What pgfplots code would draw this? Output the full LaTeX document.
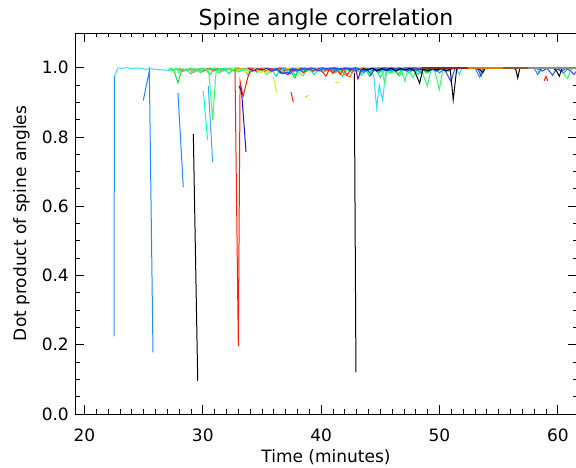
\documentclass[border=0pt]{standalone}
\usepackage{pgfplots}
\pgfplotsset{compat=1.18}
\usepackage{fontspec}
\setmainfont{DejaVu Sans}
\definecolor{cDodger}{HTML}{1E8CFF}
\definecolor{cCyan}{HTML}{33DDFF}
\definecolor{cAqua}{HTML}{00FFD0}
\definecolor{cTeal}{HTML}{00F090}
\definecolor{cLBlue}{HTML}{30B0FF}
\definecolor{cSpring}{HTML}{33FF66}
\definecolor{cGreen}{HTML}{10E040}
\definecolor{cOrange}{HTML}{FF7010}
\definecolor{cRed}{HTML}{FF2000}
\definecolor{cDBlue}{HTML}{1010E0}
\definecolor{cBlue}{HTML}{2050FF}
\definecolor{cPurple}{HTML}{7A00C8}
\definecolor{cYellow}{HTML}{E8E800}
\definecolor{cYGreen}{HTML}{B0FF20}
\definecolor{cGold}{HTML}{FFC000}
\definecolor{cBandO}{HTML}{D98200}
\definecolor{cBandB}{HTML}{8B5A30}
\definecolor{cBandR}{HTML}{8B2A1A}
\definecolor{cBandG}{HTML}{8C8C8C}
\begin{document}
\begin{tikzpicture}[x=1pt,y=1pt]
\useasboundingbox (0,0) rectangle (576,468);
\clip (0,0) rectangle (576,468);
\begin{axis}[
  at={(75pt,54pt)}, anchor=south west,
  scale only axis, width=502pt, height=381pt,
  xmin=19.2, xmax=61.62, ymin=0, ymax=1.1,
  xtick={20,30,40,50,60}, minor x tick num=9,
  ytick={0,0.2,0.4,0.6,0.8,1.0}, minor y tick num=3,
  major tick length=9pt, minor tick length=4.5pt,
  tick style={black, line width=0.8pt},
  axis line style={black, line width=0.9pt},
  /pgf/number format/assume math mode=true,
  ticklabel style={font=\fontsize{17}{20}\selectfont},
  xticklabel style={anchor=base, yshift=-28pt},
  yticklabel style={anchor=east, inner sep=0pt, xshift=-6pt,
     /pgf/number format/.cd, fixed, fixed zerofill, precision=1},
  title={Spine angle correlation},
  title style={at={(axis description cs:0.5,1.0052)}, anchor=base, font=\fontsize{22}{26}\selectfont},
  xlabel={Time (minutes)},
  xlabel style={at={(axis description cs:0.5,-0.126)}, anchor=base, font=\fontsize{17}{20}\selectfont},
  ylabel={Dot product of spine angles},
  ylabel style={at={(axis description cs:-0.0976,0.5)}, anchor=base, rotate=0, font=\fontsize{17}{20}\selectfont},
  every axis plot/.append style={line width=1pt, no markers},
]
% cyan long series
\addplot[cCyan] coordinates {(22.53,0.975)(22.83,0.999)(23.2,0.998)(23.6,1.0)(24.0,0.997)(24.4,0.999)(24.8,0.998)(25.2,0.995)(25.6,0.997)(26.0,0.995)(26.4,0.994)(26.8,0.993)(27.2,0.992)(27.6,0.994)(28.0,0.996)(28.5,0.993)(29.0,0.997)(29.5,0.995)(30.0,0.998)(30.5,0.996)(31.0,0.999)(31.6,0.997)(32.2,0.998)(32.8,0.999)(33.5,0.997)(34.2,0.999)(35.0,0.998)(35.8,0.996)(36.5,0.999)(37.3,0.998)(38.0,0.999)(38.8,0.997)(39.5,0.999)(40.3,0.998)(41.0,1.0)(41.8,0.998)(42.6,0.999)(43.4,0.997)(44.2,0.995)(44.45,0.975)(44.69,0.883)(44.91,0.95)(45.20,0.905)(45.45,0.99)(45.8,0.998)(46.5,0.999)(47.3,0.997)(48.0,0.999)(48.8,0.996)(49.5,0.999)(50.3,0.998)(51.0,0.996)(51.4,0.999)(51.67,0.98)(51.9,0.998)(52.6,1.0)(53.5,0.999)(54.5,1.0)(55.5,0.999)(56.5,1.0)(57.5,0.999)(58.2,0.998)(58.43,0.984)(58.65,0.999)(59.3,0.998)(60.0,1.0)(60.8,0.999)(61.7,1.0)};
% dodger blue drops
\addplot[cDodger] coordinates {(22.50,0.224)(22.53,0.975)};
\addplot[cDodger] coordinates {(24.97,0.905)(25.48,0.991)(25.79,0.178)};
\addplot[cDodger] coordinates {(27.90,0.927)(28.35,0.655)};
% black drop
\addplot[black] coordinates {(29.20,0.808)(29.57,0.096)};
% aqua and light blue drops
\addplot[cAqua] coordinates {(30.04,0.933)(30.41,0.79)};
\addplot[cLBlue] coordinates {(30.46,0.947)(30.83,0.728)};
% teal-green noisy series
\addplot[cTeal] coordinates {(27.8,0.998)(28.2,0.988)(28.6,0.996)(29.0,0.982)(29.4,0.997)(29.8,0.985)(30.2,0.996)(30.6,0.98)(31.0,0.997)(31.4,0.985)(31.8,0.998)(32.2,0.982)(32.6,0.996)(33.0,0.987)(33.4,0.997)(33.8,0.98)(34.2,0.996)(34.6,0.986)(35.0,0.998)(35.4,0.981)(35.8,0.996)(36.2,0.975)(36.6,0.997)(37.0,0.986)(37.4,0.998)(37.8,0.978)(38.2,0.996)(38.6,0.985)(39.0,0.997)(39.4,0.98)(39.8,0.996)(40.2,0.986)(40.6,0.998)(41.0,0.982)(41.4,0.996)(41.8,0.975)(42.2,0.997)(42.6,0.985)(43.0,0.998)(43.4,0.978)(43.8,0.996)(44.2,0.985)(44.6,0.997)(45.0,0.972)(45.4,0.996)(45.8,0.984)(46.2,0.998)(46.6,0.976)(47.0,0.996)(47.4,0.985)(47.8,0.998)(48.2,0.98)(48.6,0.996)(49.0,0.985)(49.4,0.998)(49.8,0.99)(50.3,0.999)};
% green long series
\addplot[cGreen] coordinates {(27.2,0.999)(27.55,0.993)(27.9,0.956)(28.25,0.996)(28.6,0.992)(29.0,0.998)(29.4,0.99)(29.8,0.997)(30.2,0.993)(30.6,0.999)(31.0,0.99)(31.4,0.997)(31.8,0.992)(32.2,0.998)(32.6,0.99)(33.0,0.997)(33.4,0.992)(33.8,0.999)(34.2,0.99)(34.6,0.997)(35.0,0.992)(35.4,0.998)(35.8,0.99)(36.2,0.996)(36.6,0.984)(37.0,0.997)(37.4,0.99)(37.79,0.97)(38.1,0.996)(38.5,0.99)(38.9,0.998)(39.3,0.988)(39.7,0.997)(40.1,0.99)(40.5,0.998)(40.9,0.991)(41.3,0.997)(41.7,0.99)(42.1,0.999)(42.5,0.99)(42.9,0.997)(43.3,0.985)(43.7,0.996)(44.1,0.975)(44.5,0.997)(44.9,0.985)(45.3,0.998)(45.7,0.99)(46.1,0.997)(46.5,0.98)(46.9,0.996)(47.3,0.99)(47.7,0.998)(48.1,0.99)(48.5,0.996)(48.9,0.985)(49.3,0.998)(49.7,0.99)(50.1,0.999)(50.6,0.997)(51.2,1.0)};
% orange series
\addplot[cOrange] coordinates {(28.0,0.998)(28.4,0.99)(28.8,0.997)(29.2,0.985)(29.6,0.996)(30.0,0.988)(30.4,0.998)(30.8,0.992)(31.2,0.997)(31.6,0.99)(32.0,0.998)(32.4,0.994)(32.8,0.999)(33.4,0.996)(34.0,0.999)(34.6,0.995)(35.2,0.999)(36.0,0.997)(36.8,0.999)(37.6,0.996)(38.4,0.999)(39.2,0.997)(40.0,0.999)(40.4,0.99)(40.8,0.998)(41.2,0.985)(41.6,0.997)(42.0,0.98)(42.44,0.973)(42.8,0.997)(43.4,0.999)(44.2,0.998)(45.0,1.0)(46.0,0.999)(47.0,1.0)(48.0,0.999)(49.0,1.0)(50.0,0.999)(51.0,1.0)(52.0,0.999)(53.0,1.0)};
% spring green long series
\addplot[cSpring] coordinates {(27.06,0.997)(27.4,0.99)(27.7,0.998)(28.0,0.985)(28.3,0.997)(28.6,0.99)(28.9,0.999)(29.2,0.986)(29.5,0.996)(29.8,0.99)(30.1,0.998)(30.5,0.99)(30.83,0.849)(31.11,0.984)(31.4,0.997)(31.7,0.99)(32.0,0.999)(32.4,0.992)(32.8,0.998)(33.2,0.99)(33.6,0.997)(34.0,0.985)(34.4,0.998)(34.8,0.99)(35.2,0.997)(35.6,0.988)(36.0,0.996)(36.4,0.99)(36.8,0.998)(37.2,0.985)(37.6,0.997)(38.0,0.99)(38.46,0.976)(38.8,0.996)(39.2,0.99)(39.6,0.998)(40.0,0.99)(40.4,0.997)(40.8,0.992)(41.2,0.999)(41.6,0.99)(42.0,0.997)(42.4,0.99)(42.8,0.998)(43.2,0.99)(43.6,0.997)(44.0,0.985)(44.4,0.996)(44.8,0.99)(45.1,0.998)(45.37,0.955)(45.6,0.995)(46.0,0.985)(46.4,0.997)(46.8,0.99)(47.06,0.962)(47.35,0.996)(47.76,0.97)(48.1,0.998)(48.5,0.99)(48.98,0.946)(49.3,0.997)(49.6,0.99)(49.98,0.936)(50.3,0.996)(50.7,0.999)(51.2,0.997)(51.8,1.0)(52.5,0.999)(53.2,1.0)(54.0,0.999)(55.0,1.0)(56.0,0.999)(57.0,1.0)(58.0,0.999)(59.0,1.0)(59.8,0.998)(60.3,0.99)(60.83,0.968)(61.1,0.995)(61.7,0.999)};
% yellow-green series
\addplot[cYGreen] coordinates {(32.5,0.999)(32.9,0.99)(33.3,0.997)(33.7,0.985)(34.1,0.996)(34.5,0.99)(34.9,0.998)(35.3,0.983)(35.76,0.985)(36.1,0.997)(36.5,0.99)(36.9,0.998)(37.4,0.993)(37.9,0.999)(38.5,0.995)(39.1,0.999)(39.8,0.996)(40.5,0.999)(41.3,0.997)(42.0,0.999)};
% red series
\addplot[cRed] coordinates {(32.72,0.995)(33.0,0.196)(33.15,0.96)(33.40,0.917)(33.83,0.975)(34.1,0.997)(34.5,0.99)(34.9,0.998)(35.3,0.99)(35.7,0.997)(36.1,0.993)(36.5,0.999)(36.9,0.992)(37.3,0.998)(37.7,0.99)(38.1,0.996)(38.5,0.985)(38.9,0.998)(39.3,0.99)(39.7,0.997)(40.1,0.988)(40.41,0.975)(40.7,0.996)(41.0,0.985)(41.3,0.997)(41.6,0.98)(41.9,0.996)(42.2,0.978)(42.52,0.996)(42.9,0.99)(43.3,0.998)(43.8,0.993)(44.3,0.999)(45.0,0.997)(45.8,0.999)(46.6,0.996)(47.4,0.999)(48.2,0.998)(49.0,0.999)(49.8,0.997)(50.6,0.999)(51.5,0.998)(52.3,0.999)};
\addplot[cRed] coordinates {(37.45,0.93)(37.65,0.90)};
\addplot[cRed] coordinates {(58.85,0.962)(59.0,0.975)(59.15,0.962)};
% dark blue drop
\addplot[cDBlue] coordinates {(33.06,0.947)(33.28,0.93)(33.65,0.757)};
% yellow
\addplot[cYellow] coordinates {(33.7,0.998)(34.1,0.99)(34.5,0.997)(34.9,0.985)(35.3,0.996)(35.76,0.985)(36.1,0.998)(36.6,0.993)(37.0,0.999)(37.5,0.995)(38.0,0.999)(38.6,0.996)(39.2,0.999)(39.8,0.997)(40.5,0.999)(41.3,0.998)(42.0,0.999)(43.0,0.998)(44.0,0.999)(45.0,0.998)(46.0,0.999)(47.0,1.0)};
\addplot[cYellow] coordinates {(35.95,0.972)(36.24,0.928)};
\addplot[cGold] coordinates {(38.63,0.914)(38.91,0.92)};
\addplot[cYGreen] coordinates {(41.2,0.958)(41.5,0.958)};
% purple
\addplot[cPurple] coordinates {(33.8,0.999)(34.2,0.99)(34.6,0.997)(35.0,0.993)(35.4,0.998)(35.8,0.99)(36.2,0.997)(36.6,0.984)(36.9,0.985)(37.2,0.98)(37.5,0.996)(37.9,0.99)(38.3,0.998)(38.7,0.993)(39.1,0.999)(39.6,0.995)(40.1,0.999)(40.6,0.996)(41.1,0.999)(41.6,0.994)(42.1,0.998)(42.6,0.993)(42.9,0.999)(43.11,0.967)(43.4,0.996)(43.8,0.99)(44.2,0.998)(44.8,0.995)(45.4,0.999)(46.0,0.996)(46.6,0.999)(47.2,0.995)(47.8,0.999)(48.4,0.994)(49.0,0.998)(49.6,0.995)(50.2,0.999)(50.8,0.996)(51.4,0.999)(52.0,0.998)(52.5,0.999)};
% dodger blue noisy series
\addplot[cDodger] coordinates {(36.0,0.999)(36.4,0.99)(36.8,0.998)(37.2,0.993)(37.6,0.999)(38.0,0.99)(38.4,0.997)(38.8,0.992)(39.2,0.999)(39.6,0.991)(40.0,0.998)(40.4,0.993)(40.8,0.999)(41.2,0.99)(41.6,0.997)(42.0,0.994)(42.4,0.999)(42.8,0.991)(43.2,0.998)(43.6,0.985)(44.0,0.997)(44.4,0.99)(44.8,0.999)(45.2,0.993)(45.6,0.998)(46.0,0.99)(46.4,0.997)(46.8,0.993)(47.2,0.999)(47.6,0.99)(48.0,0.997)(48.4,0.985)(48.8,0.998)(49.2,0.99)(49.6,0.997)(50.0,0.985)(50.4,0.998)(50.8,0.99)(51.2,0.999)(52.0,0.998)(53.0,0.999)(53.4,0.972)(53.6,0.995)(54.0,0.999)(55.0,1.0)(56.0,0.999)(57.0,1.0)(58.0,0.999)(58.3,0.98)(58.6,0.998)(59.3,0.999)(60.0,0.998)(60.5,0.985)(60.9,0.999)(61.7,0.998)};
% blue long
\addplot[cBlue] coordinates {(35.5,0.999)(35.9,0.99)(36.3,0.997)(36.78,0.982)(37.1,0.986)(37.4,0.983)(37.79,0.997)(38.2,0.992)(38.6,0.999)(39.0,0.994)(39.4,0.998)(39.8,0.99)(40.2,0.998)(40.6,0.995)(41.0,0.999)(41.5,0.996)(42.0,0.999)(42.5,0.997)(43.0,0.999)(43.5,0.99)(43.9,0.997)(44.21,0.978)(44.5,0.996)(44.9,0.99)(45.3,0.998)(45.7,0.992)(46.1,0.999)(46.5,0.993)(46.9,0.998)(47.3,0.99)(47.7,0.997)(48.1,0.993)(48.5,0.999)(48.9,0.992)(49.3,0.998)(49.7,0.99)(50.1,0.997)(50.5,0.99)(50.97,0.96)(51.3,0.997)(51.8,0.999)(52.3,0.998)(53.0,0.999)(53.3,0.993)(53.51,0.975)(53.75,0.998)(54.5,0.999)(55.5,1.0)(56.5,0.999)(57.5,1.0)(58.2,0.999)(58.7,0.99)(59.1,0.998)(59.56,0.978)(59.9,0.997)(60.3,0.99)(60.7,0.998)(61.1,0.99)(61.36,0.98)(61.7,0.995)};
% black big drop and black long series
\addplot[black] coordinates {(42.8,0.985)(42.94,0.12)};
\addplot[black] coordinates {(43.5,0.999)(43.9,0.993)(44.3,0.998)(44.7,0.99)(45.1,0.997)(45.5,0.992)(45.9,0.999)(46.3,0.99)(46.7,0.997)(47.1,0.993)(47.5,0.998)(47.9,0.99)(48.32,0.955)(48.6,0.996)(49.0,0.99)(49.4,0.998)(49.8,0.993)(50.2,0.999)(50.6,0.99)(50.9,0.997)(51.16,0.907)(51.45,0.996)(51.9,0.999)(52.4,0.997)(53.0,0.999)(53.4,0.995)(53.65,0.985)(53.9,0.999)(54.6,1.0)(55.4,0.999)(56.2,0.999)(56.45,0.995)(56.61,0.97)(56.8,0.999)(57.5,1.0)(58.3,0.999)(59.0,0.998)(59.6,0.999)(59.9,0.99)(60.12,0.975)(60.35,0.998)(61.0,0.999)(61.7,1.0)};
% thick bands at 1.0, drawn last
\addplot[cBandR, line width=2.2pt] coordinates {(48.5,0.9995)(52.4,0.9995)};
\addplot[cBandO, line width=2.2pt] coordinates {(52.4,0.9995)(55.35,0.9995)};
\addplot[cBandB, line width=2.2pt] coordinates {(55.35,0.9995)(57.5,0.9995)};
\addplot[cBandG, line width=2.2pt] coordinates {(57.5,0.9995)(61.7,0.9995)};
\end{axis}
\end{tikzpicture}
\end{document}
